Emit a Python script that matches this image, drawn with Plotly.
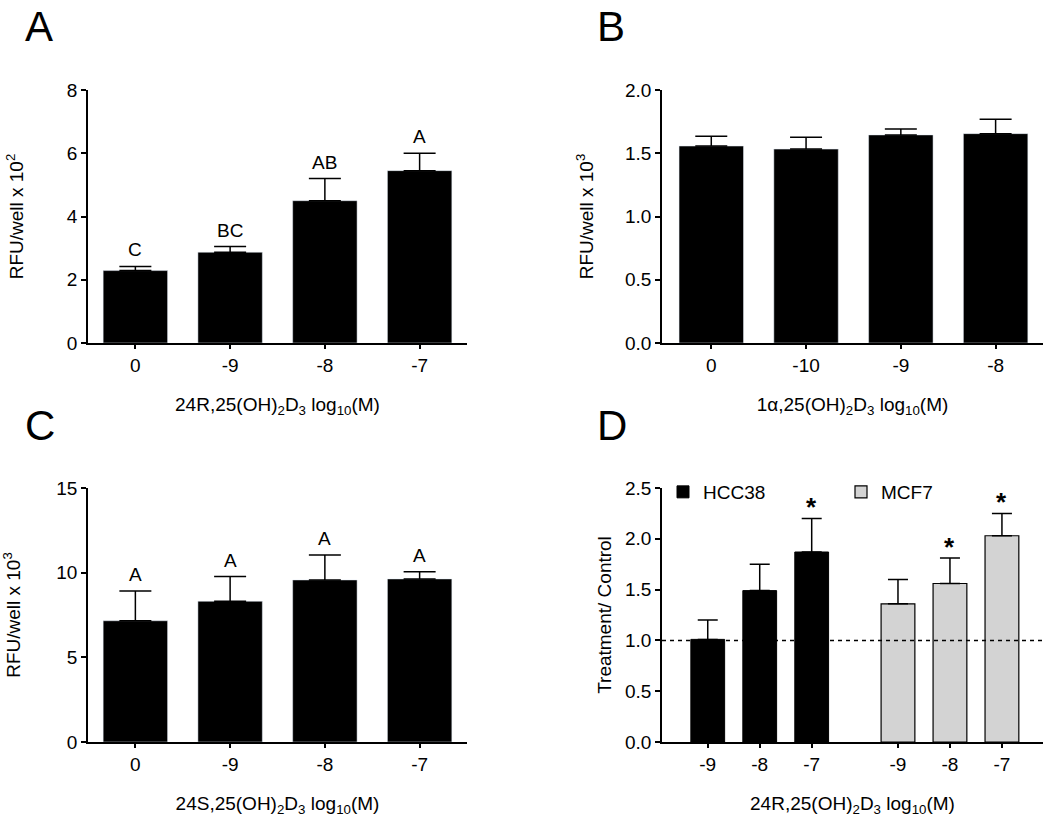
import plotly.graph_objects as go

FONT = 'Liberation Sans, Arial, sans-serif'

# panel A: 24R,25(OH)2D3
a_labels = ['0', '-9', '-8', '-7']
a_means = [2.29, 2.87, 4.50, 5.45]
a_err = [0.13, 0.18, 0.70, 0.55]
a_letters = ['C', 'BC', 'AB', 'A']

# panel B: 1a,25(OH)2D3
b_labels = ['0', '-10', '-9', '-8']
b_means = [1.557, 1.533, 1.645, 1.655]
b_err = [0.077, 0.093, 0.047, 0.114]

# panel C: 24S,25(OH)2D3
c_labels = ['0', '-9', '-8', '-7']
c_means = [7.16, 8.31, 9.57, 9.63]
c_err = [1.76, 1.46, 1.48, 0.42]
c_letters = ['A', 'A', 'A', 'A']

# panel D: treatment / control, two cell lines
d_labels = ['-9', '-8', '-7']
hcc_means = [1.01, 1.49, 1.87]
hcc_err = [0.19, 0.26, 0.33]
hcc_sig = ['', '', '*']
mcf_means = [1.36, 1.56, 2.03]
mcf_err = [0.24, 0.25, 0.22]
mcf_sig = ['', '*', '*']

group_gap = 3.66
hcc_x = [i for i in range(len(d_labels))]
mcf_x = [i + group_gap for i in range(len(d_labels))]


def err(vals, width):
    return dict(type='data', array=vals, arrayminus=[0] * len(vals), symmetric=False,
                color='black', thickness=1.5, width=width)


fig = go.Figure()

fig.add_trace(go.Bar(x=a_labels, y=a_means, width=0.68, marker=dict(color='black'),
                     error_y=err(a_err, 16), xaxis='x', yaxis='y', showlegend=False))
fig.add_trace(go.Bar(x=b_labels, y=b_means, width=0.68, marker=dict(color='black'),
                     error_y=err(b_err, 16), xaxis='x2', yaxis='y2', showlegend=False))
fig.add_trace(go.Bar(x=c_labels, y=c_means, width=0.68, marker=dict(color='black'),
                     error_y=err(c_err, 16), xaxis='x3', yaxis='y3', showlegend=False))
fig.add_trace(go.Bar(x=hcc_x, y=hcc_means, width=0.65, name='HCC38',
                     marker=dict(color='black', line=dict(color='black', width=1)),
                     error_y=err(hcc_err, 10), xaxis='x4', yaxis='y4', legend='legend'))
fig.add_trace(go.Bar(x=mcf_x, y=mcf_means, width=0.65, name='MCF7',
                     marker=dict(color='#d3d3d3', line=dict(color='black', width=1.2)),
                     error_y=err(mcf_err, 10), xaxis='x4', yaxis='y4', legend='legend2'))

ann = []
# significance letters (category index used as x)
for i, (m, e, t) in enumerate(zip(a_means, a_err, a_letters)):
    ann.append(dict(x=i, y=m + e, xref='x', yref='y', text=t, showarrow=False,
                    yanchor='bottom', yshift=4, font=dict(size=19)))
for i, (m, e, t) in enumerate(zip(c_means, c_err, c_letters)):
    ann.append(dict(x=i, y=m + e, xref='x3', yref='y3', text=t, showarrow=False,
                    yanchor='bottom', yshift=4, font=dict(size=19)))
for xs, ms, es, ss in [(hcc_x, hcc_means, hcc_err, hcc_sig), (mcf_x, mcf_means, mcf_err, mcf_sig)]:
    for xv, m, e, s in zip(xs, ms, es, ss):
        if s:
            ann.append(dict(x=xv, y=m + e, xref='x4', yref='y4', text='<b>*</b>', showarrow=False,
                            yanchor='bottom', yshift=-6, font=dict(size=26)))

# panel letters
for letter, px, py in [('A', 39, 27), ('B', 611, 27), ('C', 40, 426), ('D', 612, 426)]:
    ann.append(dict(x=px / 1050, y=1 - py / 817, xref='paper', yref='paper', text=letter,
                    showarrow=False, xanchor='center', yanchor='middle', font=dict(size=42)))

fig.add_shape(type='line', xref='x4 domain', yref='y4', x0=0, x1=1, y0=1, y1=1,
              line=dict(color='black', width=1.5, dash='4px,4px'), layer='above')

axis_common = dict(showline=True, linecolor='black', linewidth=1.5, ticks='outside',
                   tickcolor='black', tickwidth=1.5, showgrid=False, zeroline=False,
                   tickfont=dict(size=19))

xa = [88 / 1050, 467 / 1050]
xb = [662 / 1050, 1043 / 1050]
ytop = [1 - 343 / 817, 1 - 90 / 817]
ybot = [1 - 742 / 817, 1 - 488 / 817]


def title(text, standoff):
    return dict(text=text, standoff=standoff, font=dict(size=19))


xt = '24R,25(OH)<sub>2</sub>D<sub>3</sub> log<sub>10</sub>(M)'

fig.update_layout(
    width=1050, height=817,
    margin=dict(l=0, r=0, t=0, b=0, autoexpand=False),
    plot_bgcolor='white', paper_bgcolor='white',
    font=dict(family=FONT, color='black'),
    barmode='overlay',
    xaxis=dict(domain=xa, anchor='y', range=[-0.5, 3.5], ticklen=4,
               title=title(xt, 23), **axis_common),
    yaxis=dict(domain=ytop, anchor='x', range=[0, 8], dtick=2, ticklen=5,
               title=title('RFU/well x 10<sup>2</sup>', 38), **axis_common),
    xaxis2=dict(domain=xb, anchor='y2', range=[-0.52, 3.5], ticklen=4,
                title=title('1\u03b1,25(OH)<sub>2</sub>D<sub>3</sub> log<sub>10</sub>(M)', 23),
                **axis_common),
    yaxis2=dict(domain=ytop, anchor='x2', range=[0, 2.0], dtick=0.5, tickformat='.1f', ticklen=5,
                title=title('RFU/well x 10<sup>3</sup>', 26), **axis_common),
    xaxis3=dict(domain=xa, anchor='y3', range=[-0.5, 3.5], ticklen=4,
                title=title('24S,25(OH)<sub>2</sub>D<sub>3</sub> log<sub>10</sub>(M)', 23),
                **axis_common),
    yaxis3=dict(domain=ybot, anchor='x3', range=[0, 15], dtick=5, ticklen=5,
                title=title('RFU/well x 10<sup>3</sup>', 38), **axis_common),
    xaxis4=dict(domain=xb, anchor='y4', range=[-0.88, 6.45], ticklen=4,
                tickvals=hcc_x + mcf_x, ticktext=d_labels + d_labels,
                title=title(xt, 23), **axis_common),
    yaxis4=dict(domain=ybot, anchor='x4', range=[0, 2.5], dtick=0.5, tickformat='.1f', ticklen=5,
                title=title('Treatment/ Control', 8), **axis_common),
    legend=dict(x=663 / 1050, y=1 - 473 / 817, xanchor='left', yanchor='top',
                bgcolor='rgba(0,0,0,0)', font=dict(size=19), itemwidth=30),
    legend2=dict(x=841 / 1050, y=1 - 473 / 817, xanchor='left', yanchor='top',
                 bgcolor='rgba(0,0,0,0)', font=dict(size=19), itemwidth=30),
    annotations=ann,
)

fig.write_html('out.html', config={'displayModeBar': False},
               post_script="document.body.style.margin='0';")
